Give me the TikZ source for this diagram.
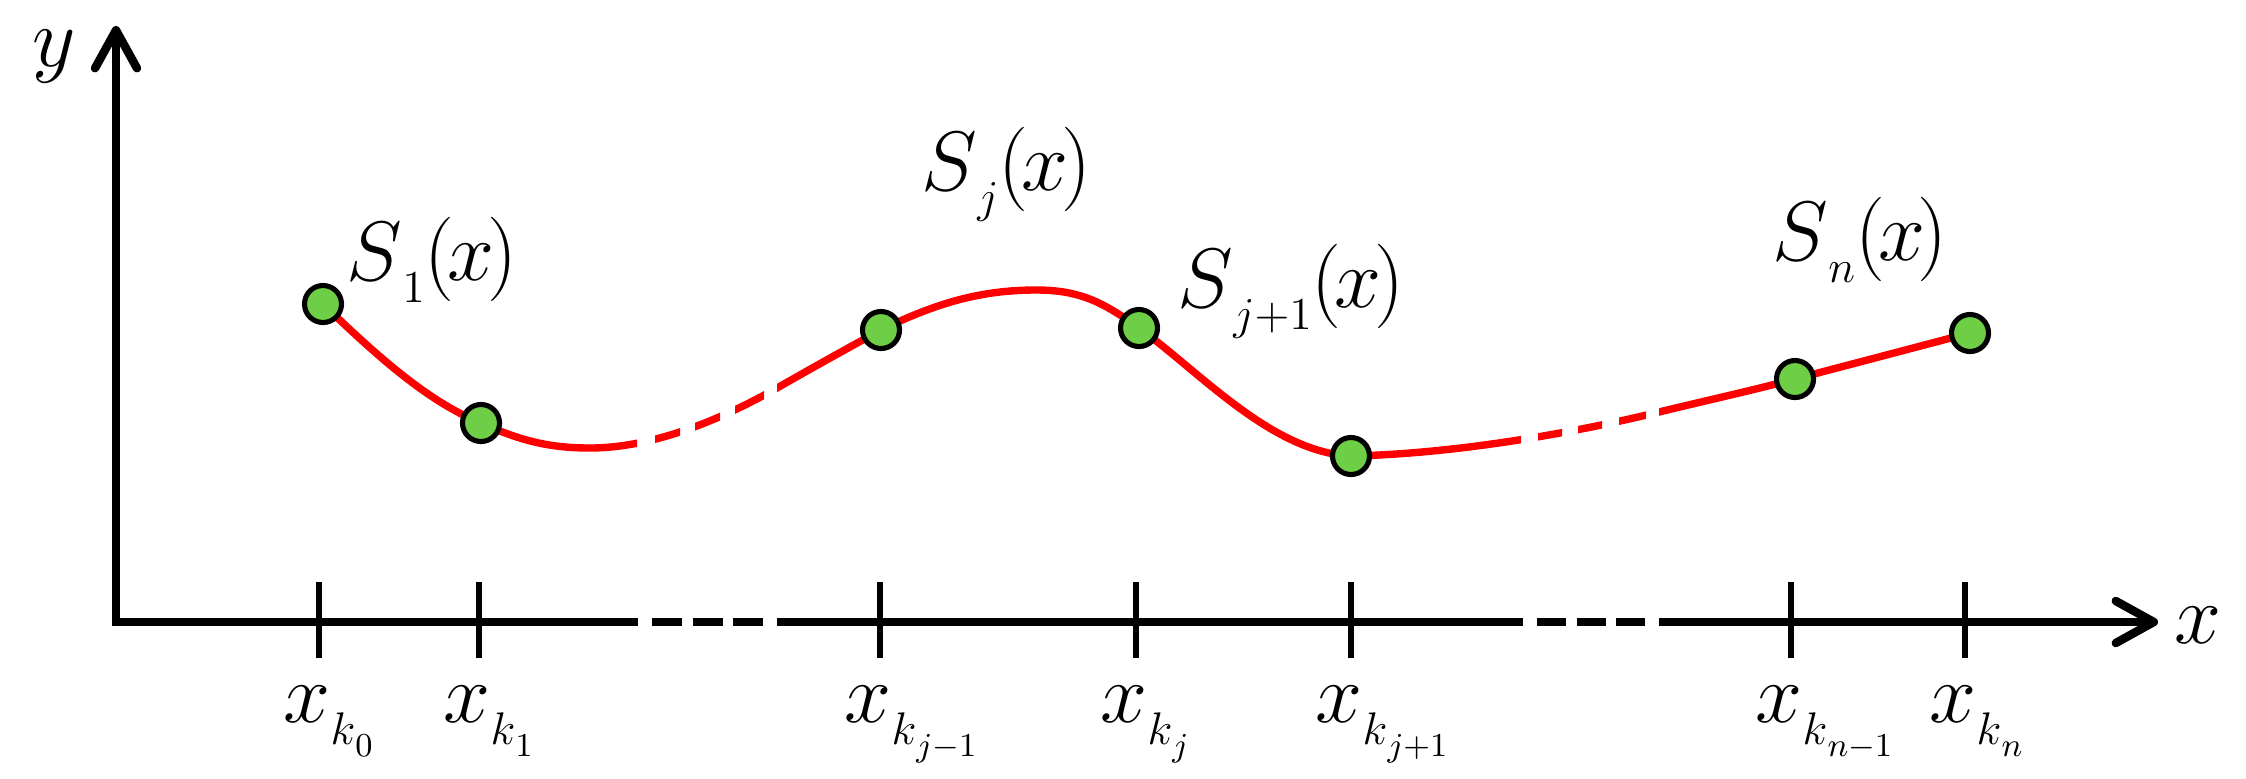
\documentclass[tikz,border=0pt]{standalone}
\usepackage{fix-cm}
\usetikzlibrary{arrows.meta}
\definecolor{dotgreen}{RGB}{110,206,69}
\newcommand\mysub[1]{\raisebox{-6.4pt}{\fontsize{13}{13}\selectfont #1}}
\newcommand\mysubsub[1]{\raisebox{-3.4pt}{\fontsize{9.5}{9.5}\selectfont #1}}
\newcommand\argx{$(\mkern-1.5mu x\mkern-1.5mu)$}
\begin{document}
\begin{tikzpicture}[x=0.01cm,y=-0.01cm,
  axisline/.style={line width=2.4pt, line join=miter},
  tickline/.style={line width=1.45pt},
  curveline/.style={draw=red, line width=2.1pt},
  ptdot/.style={circle, draw=black, fill=dotgreen, line width=1.45pt, minimum size=0.37cm, inner sep=0pt},
  lbl/.style={inner sep=0pt, anchor=base west, font=\fontsize{24}{29}\selectfont},
  barb/.tip={Straight Barb[length=0.38cm,width=0.42cm,line cap=round,line join=round]}
]
\useasboundingbox (0,0) rectangle (2246,778);
% ---- axes ----
\coordinate (O) at (116,622);
\coordinate (ytip) at (116,26);
\coordinate (xtip) at (2158,622);
\coordinate (xa1) at (638,622);
\coordinate (xb1) at (652,622);
\coordinate (xc1) at (763,622);
\coordinate (xd1) at (777,622);
\coordinate (xa2) at (1523,622);
\coordinate (xb2) at (1537,622);
\coordinate (xc2) at (1645,622);
\coordinate (xd2) at (1659,622);
\draw[axisline,barb-] (ytip) -- (O) -- (xa1);
\draw[axisline,dash pattern=on 0.30cm off 0.105cm] (xb1) -- (xc1);
\draw[axisline] (xd1) -- (xa2);
\draw[axisline,dash pattern=on 0.29cm off 0.105cm] (xb2) -- (xc2);
\draw[axisline,-barb] (xd2) -- (xtip);
\node[lbl] (ylab) at (32,66) {$y$};
\node[lbl] (xlab) at (2174,643) {$x$};
% ---- ticks ----
\foreach \n/\xx in {0/319,1/479,2/880,3/1136,4/1351,5/1791,6/1965}{
  \coordinate (tt\n) at (\xx,582);
  \coordinate (tb\n) at (\xx,658);
  \draw[tickline] (tt\n) -- (tb\n);
}
\node[lbl] (lx0) at (283,722) {$x$\mysub{$k$\mysubsub{$0$}}};
\node[lbl] (lx1) at (443,722) {$x$\mysub{$k$\mysubsub{$1$}}};
\node[lbl] (lx2) at (844,722) {$x$\mysub{$k$\mysubsub{$j{-}1$}}};
\node[lbl] (lx3) at (1100,722) {$x$\mysub{$k$\mysubsub{$j$}}};
\node[lbl] (lx4) at (1315,722) {$x$\mysub{$k$\mysubsub{$j{+}1$}}};
\node[lbl] (lx5) at (1755,722) {$x$\mysub{$k$\mysubsub{$n{-}1$}}};
\node[lbl] (lx6) at (1929,722) {$x$\mysub{$k$\mysubsub{$n$}}};
% ---- curve ----
\coordinate (p0) at (323,304);
\coordinate (p1) at (481,423);
\coordinate (p2) at (881,330);
\coordinate (p3) at (1139,328);
\coordinate (p4) at (1351,456);
\coordinate (p5) at (1795,379);
\coordinate (p6) at (1970,333);
\coordinate (m1) at (590,448);
\coordinate (e1) at (777,388);
\coordinate (pk) at (1036,290);
\coordinate (e2) at (1659,412);
\begin{scope}
\clip (0,0) rectangle (637,778) (655,0) rectangle (680,778) (695,0) rectangle (720,778)
      (735,0) rectangle (764,778) (777,0) rectangle (1521,778) (1538,0) rectangle (1562,778)
      (1578,0) rectangle (1602,778) (1619,0) rectangle (1646,778) (1659,0) rectangle (2246,778);
\draw[curveline] (p0) .. controls (373,352) and (426,401) .. (p1)
  .. controls (521,441) and (550,448) .. (m1)
  .. controls (650,448) and (717,422) .. (e1)
  .. controls (812,368) and (846,349) .. (p2)
  .. controls (936,303) and (981,290) .. (pk)
  .. controls (1081,290) and (1104,303) .. (p3)
  .. controls (1199,371) and (1271,452) .. (p4)
  .. controls (1451,454) and (1569,434) .. (e2)
  .. controls (1704,401) and (1750,391) .. (p5)
  -- (p6);
\end{scope}
\foreach \n in {0,...,6}{ \node[ptdot] (d\n) at (p\n) {}; }
% ---- labels ----
\node[lbl] (s1) at (346,280) {$S$\mysub{$1$}\argx};
\node[lbl] (sj) at (921,190) {$S$\mysub{$j$}\argx};
\node[lbl] (sj1) at (1177,307) {$S$\mysub{$j{+}1$}\argx};
\node[lbl] (sn) at (1772,260) {$S$\mysub{$n$}\argx};
\end{tikzpicture}
\end{document}
